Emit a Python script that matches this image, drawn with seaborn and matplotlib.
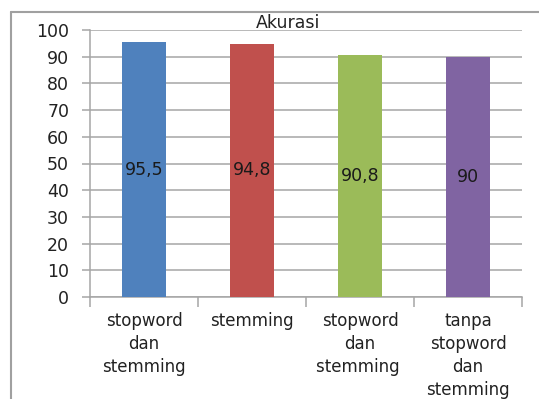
import matplotlib
matplotlib.use("Agg")
import matplotlib.pyplot as plt
from matplotlib.lines import Line2D
import numpy as np
import seaborn as sns

# Data
categories = ["stopword\ndan\nstemming", "stemming", "stopword\ndan\nstemming ",
              "tanpa\nstopword\ndan\nstemming"]
akurasi = [95.5, 94.8, 90.8, 90]
value_labels = ["95,5", "94,8", "90,8", "90"]
bar_colors = ["#4f81bd", "#c0504d", "#9bbb59", "#8064a2"]
y_ticks = list(range(0, 101, 10))

sns.set_style("white")
plt.rcParams["font.family"] = ["DejaVu Sans"]

fig = plt.figure(figsize=(5.39, 3.99), dpi=100)
ax = fig.add_axes([90 / 539, 1 - 297 / 399, (522 - 90) / 539, (297 - 30) / 399])

sns.barplot(x=categories, y=akurasi, hue=categories, palette=bar_colors,
            width=0.41, legend=False, ax=ax, saturation=1, zorder=3, linewidth=0)

# value labels in the middle of each bar
for i, (v, lab) in enumerate(zip(akurasi, value_labels)):
    ax.text(i, v / 2, lab, ha="center", va="center", fontsize=12.5, color="#1a1a1a", zorder=4)

ax.set_ylim(0, 100)
ax.set_xlim(-0.5, 3.5)
ax.set_yticks(y_ticks)
ax.grid(axis="y", color="#a6a6a6", linewidth=1.1, zorder=0)
ax.grid(axis="x", visible=False)
ax.tick_params(axis="y", left=True, length=6, width=1.1, color="#a6a6a6", direction="out",
               labelsize=12.5, labelcolor="#222222", pad=9)
ax.tick_params(axis="x", which="major", bottom=False, length=0, labelsize=12,
               labelcolor="#222222", pad=11)
ax.set_xticks(np.arange(-0.5, 4, 1), minor=True)
ax.tick_params(axis="x", which="minor", bottom=True, length=7, width=1.1,
               color="#a6a6a6", direction="out")
for lab in ax.get_xticklabels():
    lab.set_verticalalignment("top")
    lab.set_linespacing(1.35)

for side in ["top", "right"]:
    ax.spines[side].set_visible(False)
for side in ["left", "bottom"]:
    ax.spines[side].set_color("#a6a6a6")
    ax.spines[side].set_linewidth(1.1)

fig.text(288 / 539, 1 - 23 / 399, "Akurasi", ha="center", va="center",
         fontsize=12.5, color="#222222")

# chart border (left and top edges visible)
fig.add_artist(Line2D([11 / 539, 11 / 539], [0, 1 - 12 / 399], transform=fig.transFigure,
                      color="#a0a0a0", linewidth=1.5))
fig.add_artist(Line2D([11 / 539, 1], [1 - 12 / 399, 1 - 12 / 399], transform=fig.transFigure,
                      color="#a0a0a0", linewidth=1.5))

plt.savefig("out.png", dpi=100)
